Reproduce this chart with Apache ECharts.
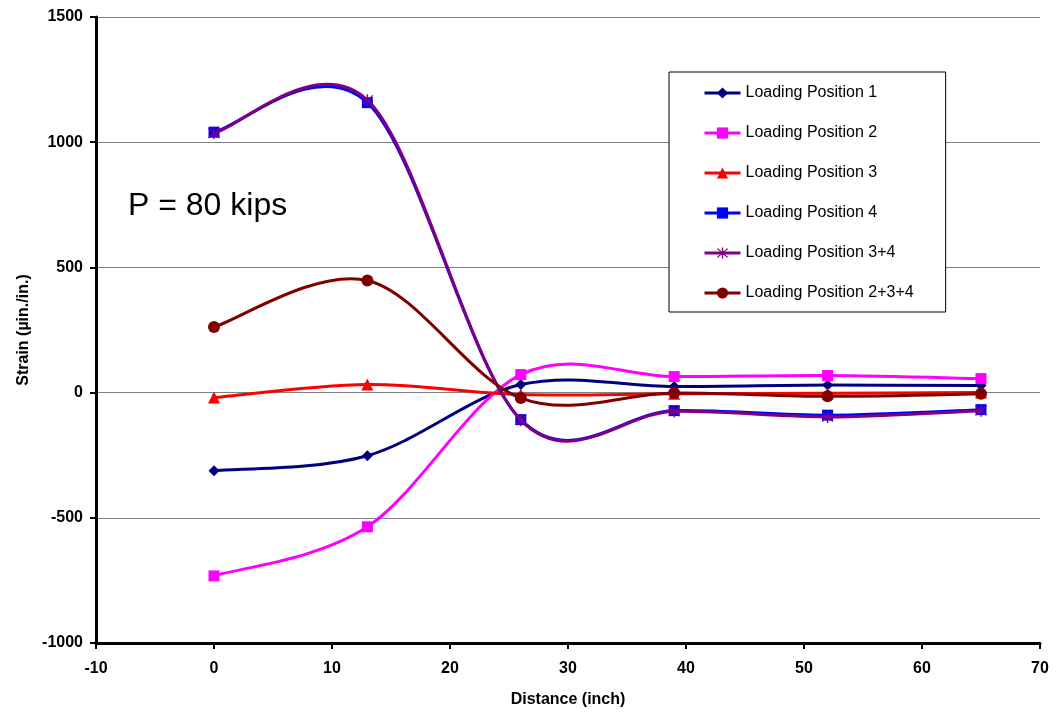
<!DOCTYPE html>
<html>
<head>
<meta charset="utf-8">
<script src="https://cdn.jsdelivr.net/npm/echarts@6/dist/echarts.min.js"></script>
<style>
html,body{margin:0;padding:0;background:#fff;}
#chart{width:1057px;height:715px;}
</style>
</head>
<body>
<div id="chart"></div>
<script>
// Distances (inch) where strain gauges were read
const distances = [0, 13, 26, 39, 52, 65];

// Strain values (µin./in.) for each loading case
const lp1    = [-312, -252, 32, 24, 30, 28];
const lp2    = [-732, -536, 72, 64, 68, 56];
const lp3    = [-20, 32, -8, -5, -3, 0];
const lp4    = [1040, 1158, -108, -72, -90, -68];
const lp34   = [1036, 1168, -110, -75, -97, -72];
const lp234  = [262, 448, -22, -2, -15, -5];

const seriesNames = ['Loading Position 1', 'Loading Position 2', 'Loading Position 3',
                     'Loading Position 4', 'Loading Position 3+4', 'Loading Position 2+3+4'];
const seriesValues = [lp1, lp2, lp3, lp4, lp34, lp234];

const xTicks = {min: -10, max: 70, interval: 10};
const yTicks = {min: -1000, max: 1500, interval: 500};

const annotation = 'P = 80 kips';

const asterisk = 'path://M-1,-10L1,-10L1,10L-1,10Z' +
  'M-7.3,-8.7L8.7,7.3L7.3,8.7L-8.7,-7.3Z' +
  'M8.7,-7.3L-7.3,8.7L-8.7,7.3L7.3,-8.7Z';

const styles = [
  {color: '#000080', symbol: 'diamond', size: 11},
  {color: '#FF00FF', symbol: 'rect', size: 11},
  {color: '#FF0000', symbol: 'triangle', size: 12},
  {color: '#0000FF', symbol: 'rect', size: 11},
  {color: '#800080', symbol: asterisk, size: 12},
  {color: '#800000', symbol: 'circle', size: 12}
];

// Smooth curve (spreadsheet-style Catmull-Rom bezier) drawn through the axis scales
function makeCurveRenderer(vals, color) {
  const n = distances.length;
  return function (params, api) {
    const i = params.dataIndex;
    if (i >= n - 1) return null;
    const c = k => Math.max(0, Math.min(n - 1, k));
    const pt = k => api.coord([distances[c(k)], vals[c(k)]]);
    const p0 = pt(i - 1), p1 = pt(i), p2 = pt(i + 1), p3 = pt(i + 2);
    return {
      type: 'bezierCurve',
      shape: {
        x1: p1[0], y1: p1[1],
        cpx1: p1[0] + (p2[0] - p0[0]) / 6, cpy1: p1[1] + (p2[1] - p0[1]) / 6,
        cpx2: p2[0] - (p3[0] - p1[0]) / 6, cpy2: p2[1] - (p3[1] - p1[1]) / 6,
        x2: p2[0], y2: p2[1]
      },
      style: {stroke: color, lineWidth: 3, fill: null, lineCap: 'round'},
      silent: true
    };
  };
}

const series = [];
seriesNames.forEach((name, i) => {
  const vals = seriesValues[i];
  series.push({
    name: name + ' (curve)',
    type: 'custom',
    renderItem: makeCurveRenderer(vals, styles[i].color),
    data: distances.map((d, j) => [d, vals[j]]),
    encode: {x: 0, y: 1},
    clip: true,
    z: 2 + 2 * i
  });
  series.push({
    name: name,
    type: 'line',
    data: distances.map((d, j) => [d, vals[j]]),
    symbol: styles[i].symbol,
    symbolSize: styles[i].size,
    showSymbol: true,
    lineStyle: {color: styles[i].color, width: 3, opacity: 0},
    itemStyle: {color: styles[i].color, borderWidth: 0},
    emphasis: {disabled: true},
    z: 3 + 2 * i
  });
});

const chart = echarts.init(document.getElementById('chart'), null, {renderer: 'canvas'});
chart.setOption({
  animation: false,
  backgroundColor: '#ffffff',
  grid: {left: 96, right: 17, top: 17, bottom: 72, containLabel: false},
  xAxis: {
    type: 'value',
    min: xTicks.min, max: xTicks.max, interval: xTicks.interval,
    name: 'Distance (inch)',
    nameLocation: 'middle',
    nameGap: 49,
    nameTextStyle: {fontFamily: 'Liberation Sans, Arial', fontWeight: 'bold', fontSize: 16, color: '#000'},
    axisLine: {onZero: false, lineStyle: {color: '#000', width: 3}},
    axisTick: {show: true, length: 6, lineStyle: {color: '#000', width: 2}},
    axisLabel: {fontFamily: 'Liberation Sans, Arial', fontWeight: 'bold', fontSize: 16, color: '#000', margin: 18,
                formatter: v => String(v)},
    splitLine: {show: false}
  },
  yAxis: {
    type: 'value',
    min: yTicks.min, max: yTicks.max, interval: yTicks.interval,
    name: 'Strain (µin./in.)',
    nameLocation: 'middle',
    nameGap: 57,
    nameRotate: 90,
    nameTextStyle: {fontFamily: 'Liberation Sans, Arial', fontWeight: 'bold', fontSize: 16, color: '#000'},
    axisLine: {onZero: false, lineStyle: {color: '#000', width: 3}},
    axisTick: {show: true, length: 6, lineStyle: {color: '#000', width: 2}},
    axisLabel: {fontFamily: 'Liberation Sans, Arial', fontWeight: 'bold', fontSize: 16, color: '#000', margin: 13,
                formatter: v => String(v)},
    splitLine: {show: true, lineStyle: {color: '#808080', width: 1}}
  },
  legend: {
    orient: 'vertical',
    left: 669,
    top: 72,
    padding: [13, 32, 11, 34],
    itemWidth: 36,
    itemHeight: 14,
    itemGap: 24,
    borderColor: '#000',
    borderWidth: 1,
    backgroundColor: '#fff',
    textStyle: {fontFamily: 'Liberation Sans, Arial', fontSize: 16, color: '#000'},
    data: seriesNames.map((n, i) => ({
      name: n,
      lineStyle: {color: styles[i].color, width: 3, opacity: 1}
    }))
  },
  graphic: [{
    type: 'text',
    left: 128,
    top: 190,
    style: {text: annotation, font: '32px "Liberation Sans", Arial', fill: '#000'}
  }],
  series: series
});
</script>
</body>
</html>
